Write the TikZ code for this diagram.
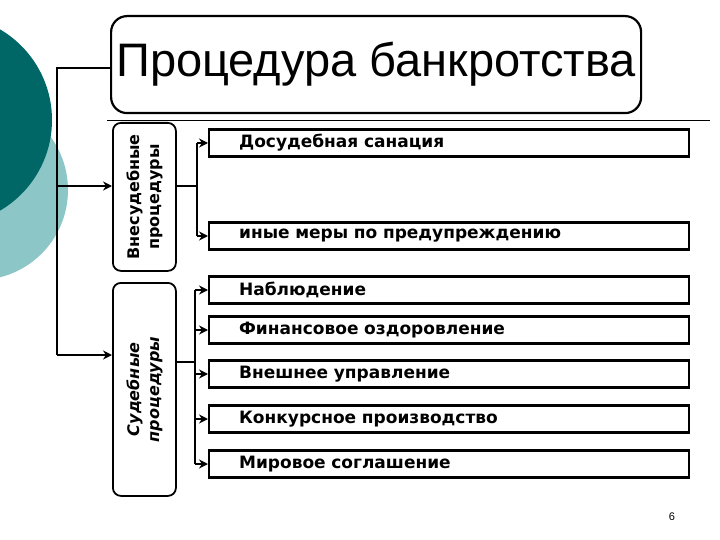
\documentclass[tikz,border=0pt]{standalone}
\usepackage{fontspec}
\setmainfont{Liberation Sans}
\newfontfamily\dv{DejaVu Sans}
\usetikzlibrary{arrows.meta}
\definecolor{lightc}{HTML}{8CC6C6}
\definecolor{darkc}{HTML}{006666}
\begin{document}
\begin{tikzpicture}[x=1pt,y=-1pt,
  item/.style={draw,line width=2.2pt,minimum height=27pt,minimum width=480pt,anchor=west,inner xsep=30pt,text width=420pt,align=left,font=\dv\bfseries\fontsize{17}{19}\selectfont},
  vbox/.style={draw,line width=1.8pt,rounded corners=8pt,minimum width=63pt,anchor=north west},
  arr/.style={line width=1.8pt,-{Stealth[length=9pt,width=9pt]}},
  ln/.style={line width=1.8pt}]
\useasboundingbox (0,0) rectangle (720,540);
\fill[lightc] (-22,190) circle (90);
\fill[darkc] (-53,120) circle (105);
\node[draw,line width=2.2pt,rounded corners=16pt,minimum width=530pt,minimum height=97pt,anchor=north west,fill=white,inner xsep=2pt,font=\fontsize{47}{50}\selectfont] (t) at (110,15) {Процедура банкротства};
\draw[line width=0.6pt] (107,120) -- (710,120);
\node[vbox,minimum height=148pt] (v1) at (112,122) {};
\node[rotate=90,align=center,font=\dv\bfseries\fontsize{16}{20}\selectfont] at (v1.center) {Внесудебные\\процедуры};
\node[vbox,minimum height=213pt] (v2) at (112,282) {};
\node[rotate=90,align=center,font=\dv\bfseries\itshape\fontsize{16}{20}\selectfont] at (v2.center) {Судебные\\процедуры};
\foreach \n/\y/\t in {a/143/Досудебная санация,b/236/иные меры по предупреждению,c/290/Наблюдение,d/330/Финансовое оздоровление,e/374/Внешнее управление,f/419/Конкурсное производство,g/464/Мировое соглашение}
  \node[item] (\n) at (208,\y) {\t};
\coordinate (L1) at (57,68);
\draw[ln] (t.west |- L1) -- (L1) -- (57,355);
\draw[arr] (57,186) -- (v1.west |- 0,186);
\draw[arr] (57,355) -- (v2.west |- 0,355);
\draw[ln] (v1.east |- 0,186) -- (197,186);
\draw[ln] (197,143) -- (197,236);
\draw[arr] (197,143) -- (a.west);
\draw[arr] (197,236) -- (b.west);
\draw[ln] (v2.east |- 0,362) -- (195,362);
\draw[ln] (195,290) -- (195,464);
\foreach \n in {c,d,e,f,g} \draw[arr] (195,0 |- \n.west) -- (\n.west);
\node[font=\fontsize{11}{13}\selectfont] (p) at (672,517) {6};
\end{tikzpicture}
\end{document}
